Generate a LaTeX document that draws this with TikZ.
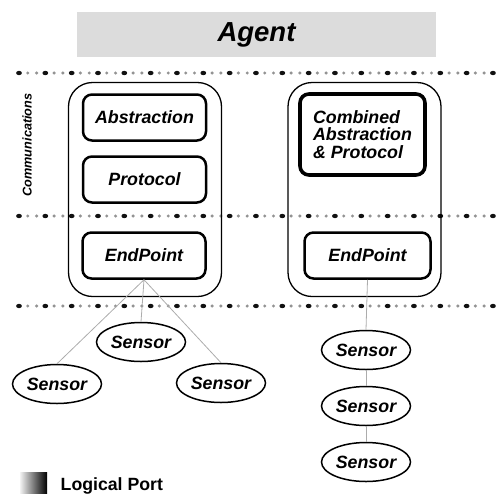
\documentclass[tikz,border=0pt]{standalone}
\usepackage{fontspec}
\setmainfont{Liberation Sans}
\usetikzlibrary{shapes.geometric}

\definecolor{bannerGray}{HTML}{DCDCDC}
\definecolor{dotDark}{HTML}{111111}
\definecolor{dotLight}{HTML}{939393}

\begin{document}
\begin{tikzpicture}[x=1pt, y=-1pt,
    label/.style={font=\fontsize{17.8}{17.5}\selectfont\bfseries\itshape},
    part/.style={draw, label, line width=2.5pt, rounded corners=9pt, minimum width=123pt, minimum height=46pt, inner sep=0pt},
    holder/.style={draw, line width=1.3pt, rounded corners=24pt, minimum width=153pt, minimum height=214pt},
    sensor/.style={draw, ellipse, label, line width=1.5pt, minimum width=89pt, minimum height=39pt, inner sep=0pt},
    wire/.style={draw=gray!65, line width=0.8pt}]
  \useasboundingbox (0,0) rectangle (497,493);

  % banner
  \node[fill=bannerGray, minimum width=359pt, minimum height=45.5pt, inner sep=0pt,
        font=\fontsize{27.5}{27.5}\selectfont\bfseries\itshape] (agent) at (256.5,34.5) {Agent};

  % dotted layer lines
  \foreach \y in {73,216,306} {
    \foreach \i in {0,...,17} {
      \fill[dotLight] (27.78+26.33*\i,\y) circle (1.7);
      \fill[dotLight] (36.56+26.33*\i,\y) circle (1.7);
    }
    \foreach \i in {0,...,18}
      \fill[dotDark] (19+26.33*\i,\y) ellipse (2.9 and 2.2);
  }
  \node[rotate=90, font=\fontsize{12.7}{12.7}\selectfont\bfseries\itshape] (comms) at (27,145) {Communications};

  % left stack
  \node[holder] (lefthold) at (145,189.5) {};
  \node[part] (abstr) at (144.5,117.5) {Abstraction};
  \node[part] (proto) at (144.5,179.5) {Protocol};
  \node[part] (epl) at (144,255.5) {EndPoint};

  % right stack
  \node[holder] (righthold) at (364.5,189.5) {};
  \node[part, line width=3.6pt, minimum width=125pt, minimum height=81pt, align=left] (combined) at (362.5,134.5) {Combined\\Abstraction\\\& Protocol};
  \node[part, minimum width=126pt] (epr) at (367.5,255.5) {EndPoint};

  % sensors
  \node[sensor] (sm) at (141,342) {Sensor};
  \node[sensor] (sl) at (57,384) {Sensor};
  \node[sensor] (sr) at (221,383) {Sensor};
  \node[sensor] (s1) at (366,350) {Sensor};
  \node[sensor] (s2) at (366,406) {Sensor};
  \node[sensor] (s3) at (366,462) {Sensor};

  \draw[wire] (epl.south) -- (sm.north);
  \draw[wire] (epl.south) -- (sl.north);
  \draw[wire] (epl.south) -- (sr.north);
  \draw[wire] (epr.south) -- (s1.north);
  \draw[wire] (s1.south) -- (s2.north);
  \draw[wire] (s2.south) -- (s3.north);

  % legend
  \shade[left color=gray!10, right color=black] (20,472) rectangle (47,495);
  \node[anchor=base west, inner sep=0pt, font=\fontsize{17.7}{17.7}\selectfont\bfseries] (portkey) at (60.5,490) {Logical Port};
\end{tikzpicture}
\end{document}
